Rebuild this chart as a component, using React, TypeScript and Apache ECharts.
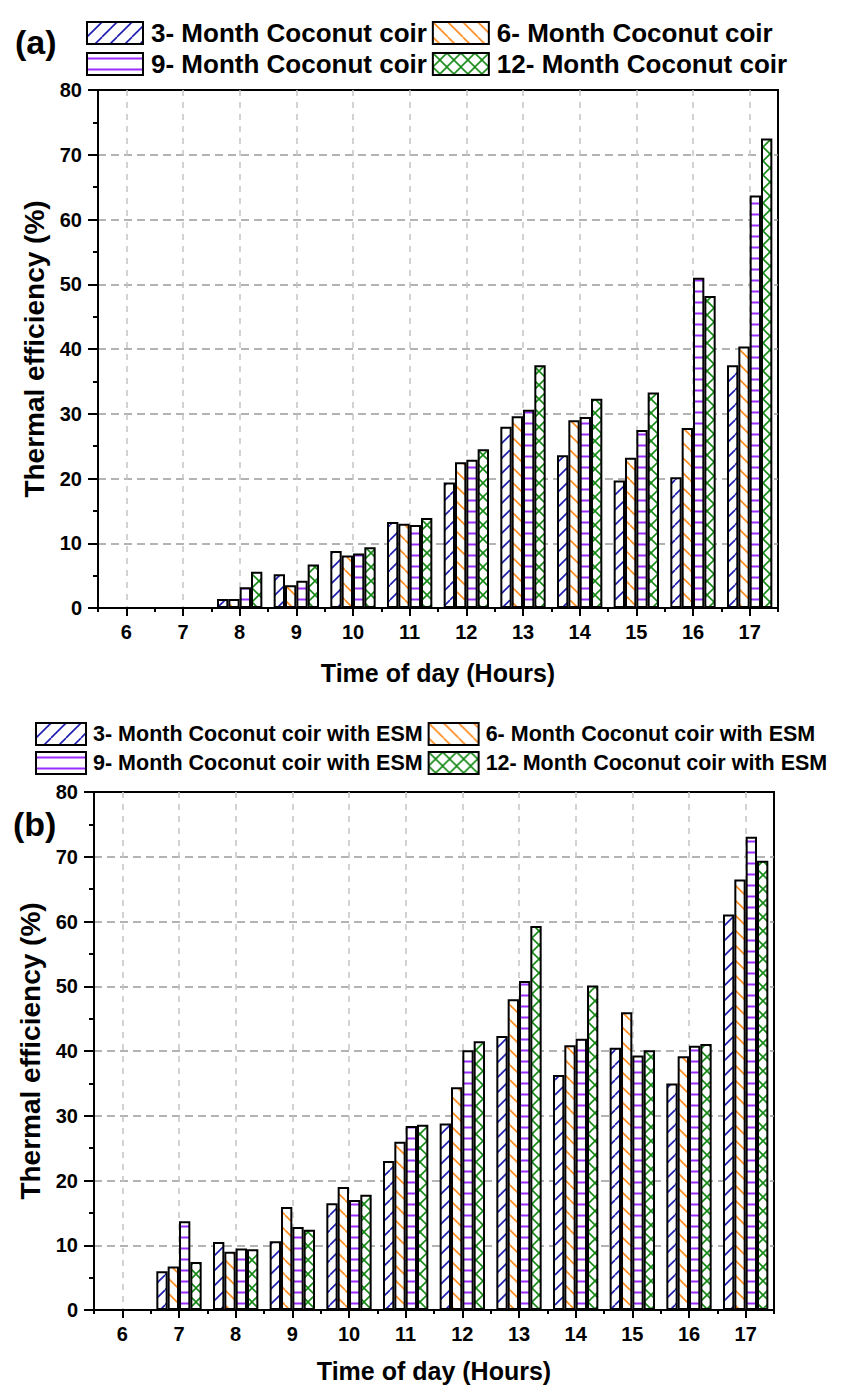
import React, { useEffect, useRef } from "react";
import * as echarts from "echarts";

const hours = ["6", "7", "8", "9", "10", "11", "12", "13", "14", "15", "16", "17"];
const yTicksMax = 80;

const namesA = [
  "3- Month Coconut coir",
  "6- Month Coconut coir",
  "9- Month Coconut coir",
  "12- Month Coconut coir",
];
const namesB = [
  "3- Month Coconut coir with ESM",
  "6- Month Coconut coir with ESM",
  "9- Month Coconut coir with ESM",
  "12- Month Coconut coir with ESM",
];

const a3 = [0, 0, 1.4, 5.2, 8.8, 13.3, 19.4, 28.0, 23.6, 19.7, 20.2, 37.5];
const a6 = [0, 0, 1.4, 3.5, 8.1, 13.0, 22.5, 29.6, 29.0, 23.2, 27.8, 40.4];
const a9 = [0, 0, 3.2, 4.2, 8.4, 12.8, 22.9, 30.6, 29.5, 27.5, 51.0, 63.7];
const a12 = [0, 0, 5.6, 6.7, 9.4, 13.9, 24.5, 37.5, 32.3, 33.3, 48.2, 72.5];

const b3 = [0, 6.0, 10.5, 10.6, 16.5, 23.0, 28.8, 42.3, 36.3, 40.5, 35.0, 61.1];
const b6 = [0, 6.7, 9.0, 15.9, 19.0, 26.0, 34.4, 48.0, 40.9, 46.0, 39.2, 66.5];
const b9 = [0, 13.7, 9.5, 12.8, 17.0, 28.4, 40.1, 50.8, 41.9, 39.3, 40.8, 73.1];
const b12 = [0, 7.4, 9.4, 12.4, 17.8, 28.6, 41.5, 59.3, 50.1, 40.1, 41.1, 69.4];

const FONT = "'Liberation Sans', Arial, Helvetica, sans-serif";

function makePattern(kind: string, color: string) {
  const size = kind === "h" ? 11 : kind === "x" ? 14 : 15;
  const c = document.createElement("canvas");
  c.width = size;
  c.height = size;
  const ctx = c.getContext("2d")!;
  ctx.fillStyle = "#ffffff";
  ctx.fillRect(0, 0, size, size);
  ctx.strokeStyle = color;
  ctx.fillStyle = color;
  ctx.lineWidth = 1.6;
  if (kind === "h") {
    ctx.fillRect(0, 4.5, size, 2);
  } else {
    for (let k = -1; k <= 1; k++) {
      if (kind === "/" || kind === "x") {
        ctx.beginPath();
        ctx.moveTo(k * size, size);
        ctx.lineTo(k * size + size, 0);
        ctx.stroke();
      }
      if (kind === "\\" || kind === "x") {
        ctx.beginPath();
        ctx.moveTo(k * size, 0);
        ctx.lineTo(k * size + size, size);
        ctx.stroke();
      }
    }
  }
  return { image: c, repeat: "repeat", imageWidth: size, imageHeight: size };
}

export default function App() {
  const ref = useRef<HTMLDivElement>(null);
  useEffect(() => {
    if (!ref.current) return;
    const chart = echarts.init(ref.current, null, { renderer: "svg" });
    const pats = [
      makePattern("/", "#1b1bb0"),
      makePattern("\\", "#ff8a1c"),
      makePattern("h", "#9a2cff"),
      makePattern("x", "#168a16"),
    ];

    const mainX = (gridIndex: number) => ({
      type: "category",
      gridIndex,
      position: "bottom",
      data: hours,
      axisLine: { show: true, lineStyle: { color: "#000", width: 2 } },
      axisTick: { show: true, alignWithLabel: true, length: 8, lineStyle: { color: "#000", width: 2 } },
      axisLabel: { fontSize: 20, fontWeight: "bold", color: "#000", margin: 14, fontFamily: FONT },
      splitLine: {
        show: true,
        alignWithLabel: true,
        lineStyle: { color: "#c4c4c4", type: [6, 6], width: 1.5 },
      },
      name: "Time of day (Hours)",
      nameLocation: "middle",
      nameGap: gridIndex === 0 ? 52 : 48,
      nameTextStyle: { fontSize: 25, fontWeight: "bold", color: "#000", fontFamily: FONT },
    });
    const minorX = (gridIndex: number) => ({
      type: "category",
      gridIndex,
      position: "bottom",
      data: hours,
      axisLine: { show: false },
      axisTick: { show: true, length: 4, lineStyle: { color: "#000", width: 2 } },
      axisLabel: { show: false },
      splitLine: { show: false },
    });
    const yAx = (gridIndex: number) => ({
      type: "value",
      gridIndex,
      min: 0,
      max: yTicksMax,
      interval: 10,
      axisLine: { show: true, lineStyle: { color: "#000", width: 2 } },
      axisTick: { show: true, length: 10, lineStyle: { color: "#000", width: 2 } },
      minorTick: { show: true, splitNumber: 2, length: 5, lineStyle: { color: "#000", width: 2 } },
      axisLabel: { fontSize: 20, fontWeight: "bold", color: "#000", margin: 16, fontFamily: FONT },
      splitLine: {
        show: true,
        showMinLine: false,
        showMaxLine: false,
        lineStyle: { color: "#9a9a9a", type: [8, 5], width: 1.5 },
      },
      name: "Thermal efficiency (%)",
      nameLocation: "middle",
      nameGap: gridIndex === 0 ? 42 : 43,
      nameTextStyle: { fontSize: 28, fontWeight: "bold", color: "#000", fontFamily: FONT },
    });

    const mkSeries = (names: string[], datas: number[][], xi: number, yi: number) =>
      names.map((n, i) => ({
        name: n,
        type: "bar",
        xAxisIndex: xi,
        yAxisIndex: yi,
        data: datas[i],
        barGap: "0%",
        barCategoryGap: "20%",
        itemStyle: { color: pats[i], borderColor: "#000", borderWidth: 2 },
        emphasis: { disabled: true },
      }));

    const legendBase = {
      orient: "horizontal",
      icon: "rect",
      itemGap: 5,
      padding: 0,
      selectedMode: false,
    };

    chart.setOption({
      animation: false,
      backgroundColor: "#ffffff",
      textStyle: { fontFamily: FONT, fontWeight: "bold", color: "#000" },
      title: [
        { text: "(a)", left: 10, top: 20, textStyle: { fontSize: 34, fontWeight: "bold", color: "#000", fontFamily: FONT } },
        { text: "(b)", left: 8, top: 802, textStyle: { fontSize: 34, fontWeight: "bold", color: "#000", fontFamily: FONT } },
      ],
      legend: [
        {
          ...legendBase,
          data: namesA,
          left: 86,
          top: 20,
          width: 800,
          itemWidth: 56,
          itemHeight: 22,
          textStyle: {
            fontWeight: "bold",
            color: "#000",
            fontFamily: FONT,
            fontSize: 26,
            padding: [0, 0, 0, 3],
          },
        },
        {
          ...legendBase,
          data: namesB,
          left: 35,
          top: 722,
          width: 900,
          itemWidth: 50,
          itemHeight: 22,
          textStyle: {
            fontWeight: "bold",
            color: "#000",
            fontFamily: FONT,
            fontSize: 21.5,
            padding: [0, 0, 0, 2],
          },
        },
      ],
      grid: [
        { left: 98, top: 90, width: 680, height: 518, show: true, borderColor: "#000", borderWidth: 2, backgroundColor: "transparent" },
        { left: 94, top: 792, width: 680, height: 518, show: true, borderColor: "#000", borderWidth: 2, backgroundColor: "transparent" },
      ],
      xAxis: [mainX(0), minorX(0), mainX(1), minorX(1)],
      yAxis: [yAx(0), yAx(1)],
      series: [
        ...mkSeries(namesA, [a3, a6, a9, a12], 0, 0),
        ...mkSeries(namesB, [b3, b6, b9, b12], 2, 1),
      ],
    } as any);
    return () => chart.dispose();
  }, []);
  return (
    <div
      ref={ref}
      style={{ position: "absolute", left: 0, top: 0, width: 843, height: 1391 }}
    />
  );
}
